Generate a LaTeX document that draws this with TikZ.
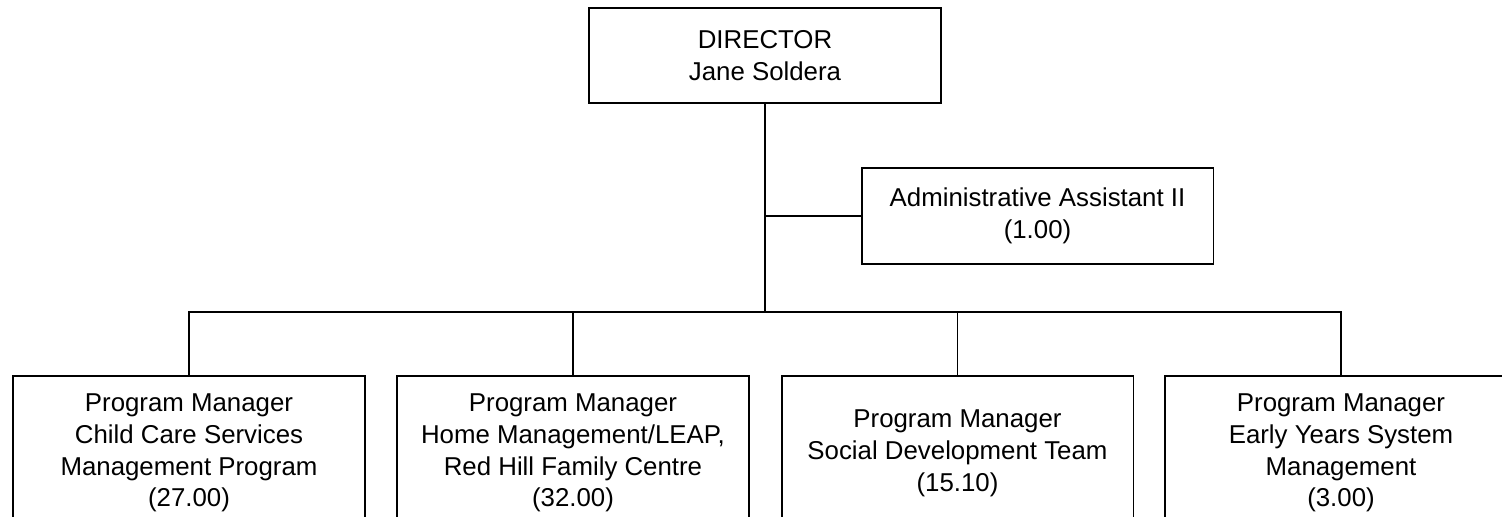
\documentclass[tikz,border=0pt]{standalone}
\usepackage{fontspec}
\setmainfont{Liberation Sans}
\begin{document}
\begin{tikzpicture}[x=0.02cm, y=-0.02cm,
    box/.style={draw, line width=1.1pt, inner sep=0pt, align=center,
      font=\fontsize{14.7}{18.1}\selectfont},
    headbox/.style={box, minimum width=7.04cm, minimum height=1.9cm},
    managerbox/.style={box, minimum width=7.04cm, minimum height=3.08cm},
    link/.style={line width=1.1pt}]
      \useasboundingbox (0,0) rectangle (1502,517);
      \clip (0,0) rectangle (1502,517);
      %
      \node[headbox] (director) at (765,55.5) {DIRECTOR\\Jane Soldera};
      \node[headbox, minimum height=1.92cm] (admin) at (1037.5,216) {Administrative Assistant II\\(1.00)};
      %
      \node[managerbox] (childcare) at (189,453) {Program Manager\\Child Care Services\\Management Program\\(27.00)};
      \node[managerbox] (homemgmt) at (573,453) {Program Manager\\Home Management/LEAP,\\Red Hill Family Centre\\(32.00)};
      \node[managerbox] (social) at (957.5,453) {Program Manager\\Social Development Team\\(15.10)};
      \node[managerbox] (earlyyears) at (1341,453) {Program Manager\\Early Years System\\Management\\(3.00)};
      %
      \coordinate (bus) at (765,312);
      \draw[link] (director.south) -- (bus);
      \draw[link] (admin.west) -- (admin.west -| director.south);
      \draw[link] (childcare.north) -- (childcare.north |- bus) -- (earlyyears.north |- bus) -- (earlyyears.north);
      \draw[link] (homemgmt.north) -- (homemgmt.north |- bus);
      \draw[link] (social.north) -- (social.north |- bus);
      %
    \end{tikzpicture}
\end{document}
